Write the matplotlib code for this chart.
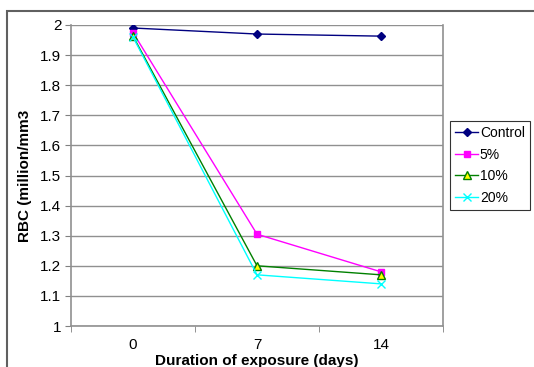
import matplotlib.pyplot as plt
from matplotlib.patches import Rectangle

plt.rcParams['font.family'] = ['Liberation Sans', 'DejaVu Sans']

days = ['0', '7', '14']
control = [1.99, 1.97, 1.963]
pct5 = [1.975, 1.305, 1.18]
pct10 = [1.963, 1.20, 1.17]
pct20 = [1.96, 1.17, 1.14]

W, H = 534, 367
fig = plt.figure(figsize=(W / 100, H / 100), dpi=100)

# outer chart frame
fig.patches.append(Rectangle((7 / W, -0.1), 1.0, (H - 11) / H + 0.1,
                             transform=fig.transFigure, fill=False,
                             edgecolor='#606060', linewidth=1.5))

ax = fig.add_axes([71 / W, (H - 326) / H, (443 - 71) / W, (326 - 25) / H])
x = range(len(days))

ax.plot(x, control, color='#000080', marker='D', markersize=4.5, lw=1, label='Control')
ax.plot(x, pct5, color='#FF00FF', marker='s', markersize=5, lw=1, label='5%')
ax.plot(x, pct10, color='#008000', marker='^', markersize=5.5, markerfacecolor='#FFFF00',
        markeredgecolor='#008000', lw=1, label='10%')
ax.plot(x, pct20, color='#00FFFF', marker='x', markersize=6, mew=1, lw=1, label='20%')

ax.set_xlim(-0.5, 2.5)
ax.set_ylim(1, 2)
ax.set_yticks([1 + i / 10 for i in range(11)])
ax.set_yticklabels(['1', '1.1', '1.2', '1.3', '1.4', '1.5', '1.6', '1.7', '1.8', '1.9', '2'])
ax.set_xticks(list(x))
ax.set_xticklabels(days)
ax.tick_params(axis='x', length=0, labelsize=11, pad=8.5)
ax.set_xticks([-0.5, 0.5, 1.5, 2.5], minor=True)
ax.tick_params(axis='x', which='minor', length=4, color='#808080', direction='out')
ax.tick_params(axis='y', length=4, color='#808080', labelsize=11, pad=3, direction='out')
ax.yaxis.grid(True, color='#909090', lw=1)
ax.set_axisbelow(True)
for s in ax.spines.values():
    s.set_color('#909090')
    s.set_linewidth(1.2)
ax.spines['top'].set_visible(False)

ax.set_ylabel('RBC (million/mm3', fontsize=11, fontweight='bold')
ax.yaxis.set_label_coords(-0.105, 0.5)
ax.set_xlabel('Duration of exposure (days)', fontsize=11, fontweight='bold')
ax.xaxis.set_label_coords(0.5, -0.094)

leg = ax.legend(loc='upper left', bbox_to_anchor=(450 / W, (H - 121) / H),
                bbox_transform=fig.transFigure, fontsize=10, frameon=True,
                fancybox=False, borderaxespad=0, handlelength=1.7,
                handletextpad=0.1, labelspacing=0.55, borderpad=0.35)
leg.get_frame().set_edgecolor('black')
leg.get_frame().set_linewidth(0.8)

fig.savefig('out.png', dpi=100)
